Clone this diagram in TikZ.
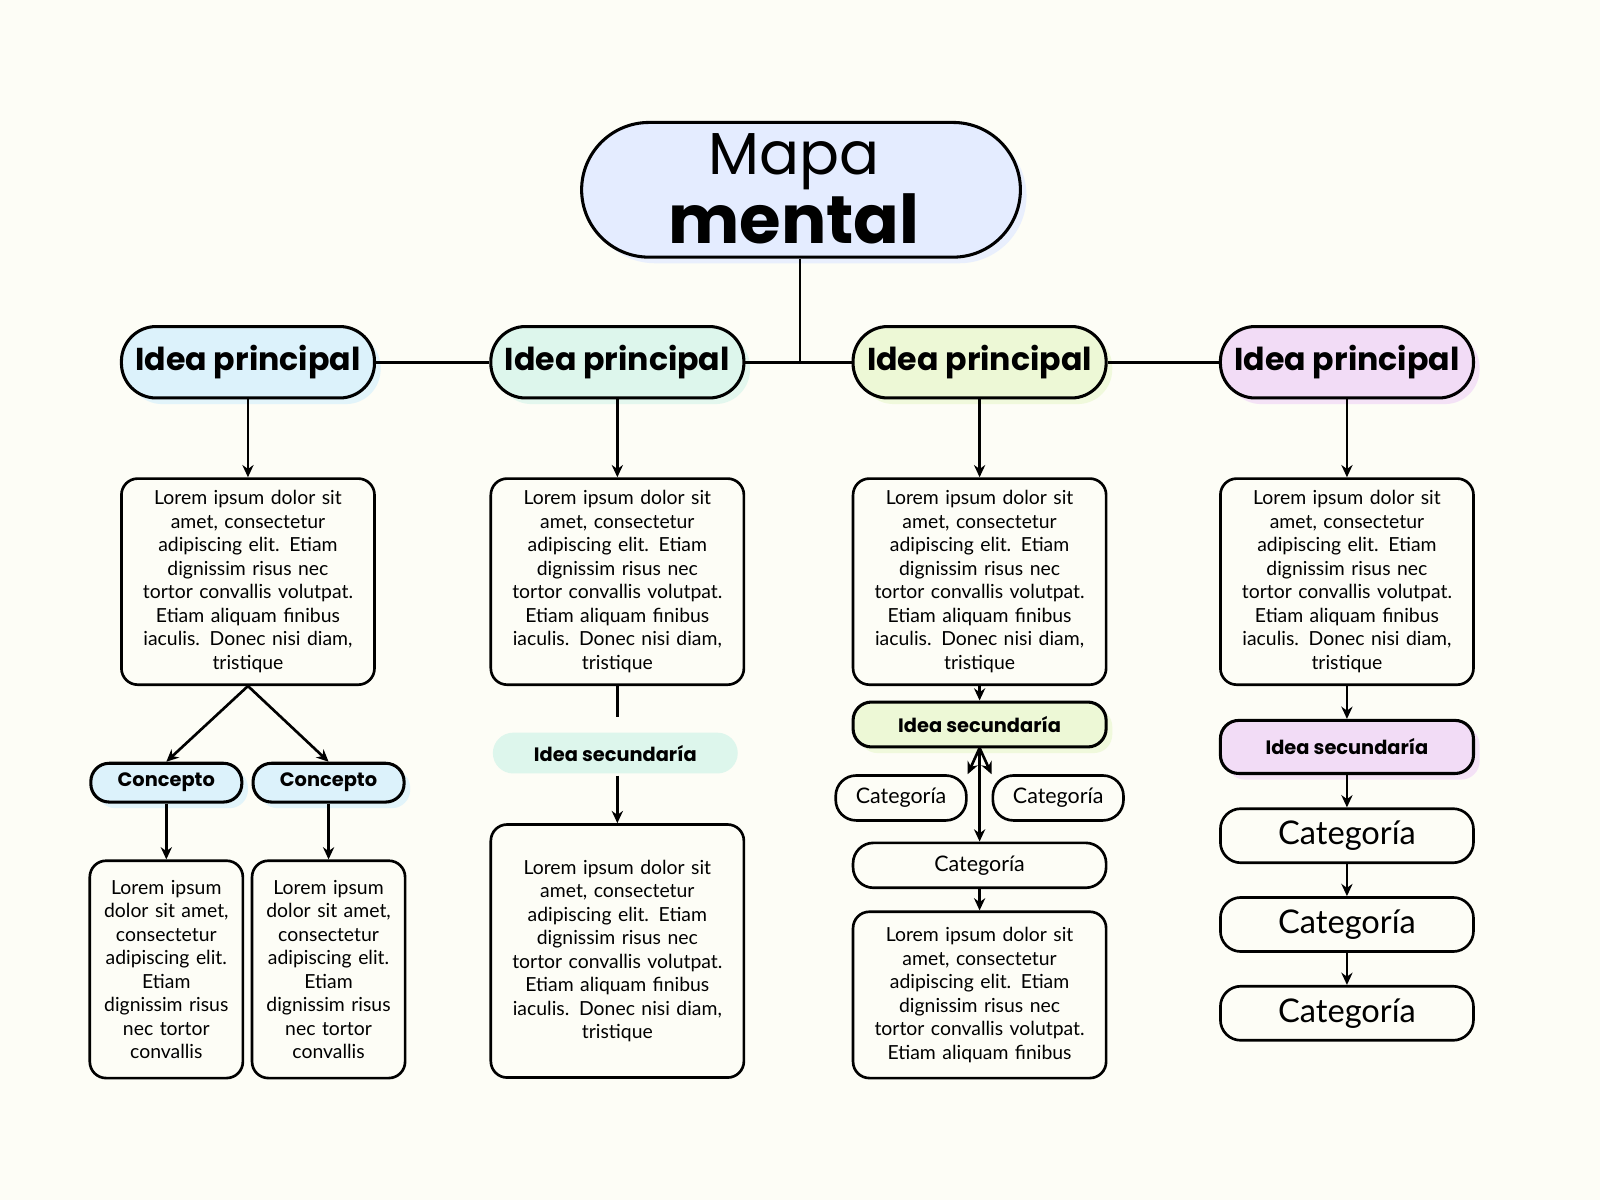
\documentclass[tikz,border=0pt]{standalone}
\usepackage{fontspec}
\setmainfont{Lato}
\newfontfamily\headfont{Poppins}
\usepackage{tikz}
\usetikzlibrary{arrows.meta,shadows}
\definecolor{bgcol}{HTML}{FDFDF6}
\definecolor{titlecol}{HTML}{E4ECFF}
\definecolor{bluecol}{HTML}{DCF2FB}
\definecolor{mintcol}{HTML}{DDF6EC}
\definecolor{limecol}{HTML}{EDF8D6}
\definecolor{lilacol}{HTML}{F2DCF6}
\tikzset{
  box/.style={draw, line width=2.6pt, rounded corners=16pt, align=center, font=\fontsize{19}{23}\selectfont, inner sep=2pt},
  pill/.style={draw, line width=3pt, rounded corners=34pt, font=\headfont\bfseries\fontsize{31}{36}\selectfont, minimum width=248pt, minimum height=70pt, inner sep=0pt},
  shade/.style={drop shadow={shadow xshift=6pt, shadow yshift=-6pt, fill=#1, opacity=0.8}, fill=#1},
  subbox/.style={draw, line width=3pt, rounded corners=18pt, font=\headfont\bfseries\fontsize{19}{22}\selectfont, inner sep=0pt},
  catbox/.style={draw, line width=2.6pt, rounded corners=20pt, inner sep=0pt},
  con/.style={line width=2.6pt},
  arr/.style={line width=2.6pt, -{Stealth[length=12pt,width=11pt]}}
}
\begin{document}
\begin{tikzpicture}[x=1pt, y=-1pt]
\fill[bgcol] (0,0) rectangle (1568,1176);
\useasboundingbox (0,0) rectangle (1568,1176);

% title
\node[draw, line width=3pt, rounded corners=66pt, shade=titlecol, minimum width=430pt, minimum height=132pt, inner sep=0pt] (title) at (785,186) {};
\node[font=\headfont\fontsize{58}{58}\selectfont] (mapa) at (778,158) {Mapa};
\node[font=\headfont\bfseries\fontsize{66}{66}\selectfont] (mental) at (778,214) {mental};

% main ideas
\node[pill, shade=bluecol] (p1) at (243,355) {Idea principal};
\node[pill, shade=mintcol] (p2) at (605,355) {Idea principal};
\node[pill, shade=limecol] (p3) at (960,355) {Idea principal};
\node[pill, shade=lilacol] (p4) at (1320,355) {Idea principal};
\coordinate (hub) at (784,355);
\draw[con] (title.south -| hub) -- (hub);
\draw[con] (p1) -- (p2) -- (p3) -- (p4);

% text boxes
\foreach \i/\x in {1/243,2/605,3/960,4/1320}{
  \node[box, minimum width=248pt, minimum height=202pt, text width=235pt] (t\i) at (\x,570)
    {Lorem ipsum dolor sit\\ amet, consectetur\\ adipiscing elit. Etiam\\ dignissim risus nec\\ tortor convallis volutpat.\\ Etiam aliquam finibus\\ iaculis. Donec nisi diam,\\ tristique};
  \draw[arr] (p\i) -- (t\i);
}

% column 1
\node[subbox, shade=bluecol, minimum width=148pt, minimum height=38pt] (c1) at (163,767) {Concepto};
\node[subbox, shade=bluecol, minimum width=148pt, minimum height=38pt] (c2) at (322,767) {Concepto};
\draw[arr] (t1.south) -- (c1.north);
\draw[arr] (t1.south) -- (c2.north);
\node[box, minimum width=150pt, minimum height=213pt, text width=140pt] (d1) at (163,950) {Lorem ipsum\\ dolor sit amet,\\ consectetur\\ adipiscing elit.\\ Etiam\\ dignissim risus\\ nec tortor\\ convallis};
\node[box, minimum width=150pt, minimum height=213pt, text width=140pt] (d2) at (322,950) {Lorem ipsum\\ dolor sit amet,\\ consectetur\\ adipiscing elit.\\ Etiam\\ dignissim risus\\ nec tortor\\ convallis};
\draw[arr] (c1) -- (d1);
\draw[arr] (c2) -- (d2);

% column 2
\node[fill=mintcol, rounded corners=20pt, minimum width=240pt, minimum height=40pt, inner sep=0pt, font=\headfont\bfseries\fontsize{19}{22}\selectfont] (s2) at (603,738) {Idea secundaría};
\node[box, minimum width=248pt, minimum height=248pt, text width=235pt] (e2) at (605,932) {Lorem ipsum dolor sit\\ amet, consectetur\\ adipiscing elit. Etiam\\ dignissim risus nec\\ tortor convallis volutpat.\\ Etiam aliquam finibus\\ iaculis. Donec nisi diam,\\ tristique};
\draw[con] (t2.south) -- ++(0,30);
\draw[arr] (605,760) -- (e2.north);

% column 3
\node[subbox, shade=limecol, minimum width=248pt, minimum height=44pt] (s3) at (960,710) {Idea secundaría};
\draw[arr] (t3) -- (s3);
\node[catbox, minimum width=128pt, minimum height=44pt, font=\fontsize{21}{24}\selectfont] (k1) at (883,782) {Categoría};
\node[catbox, minimum width=128pt, minimum height=44pt, font=\fontsize{21}{24}\selectfont] (k2) at (1037,782) {Categoría};
\node[catbox, minimum width=248pt, minimum height=44pt, font=\fontsize{21}{24}\selectfont] (k3) at (960,848) {Categoría};
\coordinate (fork) at (960,733);
\draw[arr] (fork) -- (k1.north east);
\draw[arr] (fork) -- (k2.north west);
\draw[arr] (fork) -- (k3.north);
\node[box, minimum width=248pt, minimum height=163pt, text width=235pt] (e3) at (960,975) {Lorem ipsum dolor sit\\ amet, consectetur\\ adipiscing elit. Etiam\\ dignissim risus nec\\ tortor convallis volutpat.\\ Etiam aliquam finibus};
\draw[arr] (k3) -- (e3);

% column 4
\node[subbox, shade=lilacol, minimum width=248pt, minimum height=52pt] (s4) at (1320,732) {Idea secundaría};
\draw[arr] (t4) -- (s4);
\node[catbox, minimum width=248pt, minimum height=53pt, font=\fontsize{32}{36}\selectfont] (q1) at (1320,819) {Categoría};
\node[catbox, minimum width=248pt, minimum height=53pt, font=\fontsize{32}{36}\selectfont] (q2) at (1320,906) {Categoría};
\node[catbox, minimum width=248pt, minimum height=53pt, font=\fontsize{32}{36}\selectfont] (q3) at (1320,993) {Categoría};
\draw[arr] (s4) -- (q1);
\draw[arr] (q1) -- (q2);
\draw[arr] (q2) -- (q3);
\end{tikzpicture}
\end{document}
